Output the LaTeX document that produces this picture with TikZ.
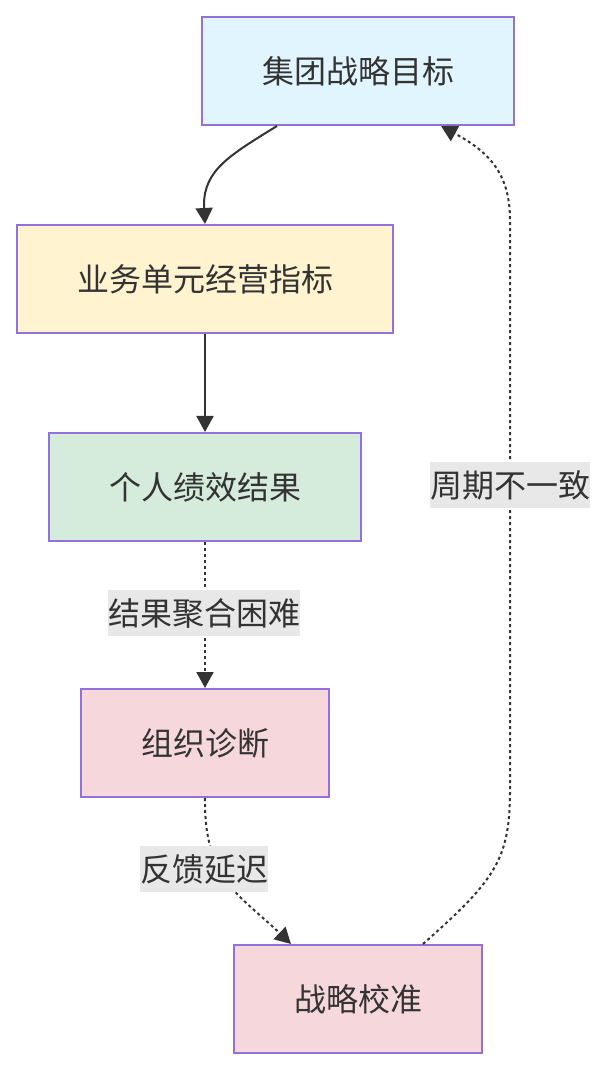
\documentclass[tikz,border=0pt]{standalone}
\usepackage{fontspec}
\setmainfont{Noto Sans CJK SC}
\usetikzlibrary{arrows.meta}
\definecolor{bordc}{HTML}{9370DB}
\definecolor{txtc}{HTML}{333333}
\definecolor{lblue}{HTML}{E1F5FE}
\definecolor{lyel}{HTML}{FFF3D0}
\definecolor{lgreen}{HTML}{D5EBDB}
\definecolor{lpink}{HTML}{F6D8DC}
\definecolor{lblbg}{HTML}{E8E8E8}
\tikzset{
  box/.style={draw=bordc, line width=1pt, text=txtc, font=\fontsize{16pt}{20pt}\selectfont, inner sep=0pt, anchor=north west},
  lbl/.style={fill=lblbg, text=txtc, font=\fontsize{16pt}{20pt}\selectfont, inner sep=0pt, minimum height=23pt},
  conn/.style={draw=txtc, line width=1pt, -{Triangle[length=8pt,width=8.5pt]}},
  dots/.style={conn, dash pattern=on 1.5pt off 1.5pt}
}
\begin{document}
\begin{tikzpicture}[x=0.5pt,y=-0.5pt]
\useasboundingbox (0,0) rectangle (606,1068);
\node[box, fill=lblue, minimum width=156pt, minimum height=54pt] (n1) at (201,16) {集团战略目标};
\node[box, fill=lyel, minimum width=188pt, minimum height=54pt] (n2) at (16,224) {业务单元经营指标};
\node[box, fill=lgreen, minimum width=156pt, minimum height=54pt] (n3) at (48,432) {个人绩效结果};
\node[box, fill=lpink, minimum width=124pt, minimum height=54pt] (n4) at (80,688) {组织诊断};
\node[box, fill=lpink, minimum width=124pt, minimum height=54pt] (n5) at (233,944) {战略校准};
\coordinate (c1) at (204,205);
\coordinate (r1) at (510,790);
\coordinate (r2) at (510,220);
\draw[conn] ([xshift=-40.5pt]n1.south) .. controls (230,155) and (204,170) .. (c1) -- (n2.north);
\draw[conn] (n2.south) -- (n3.north);
\draw[dots] (n3.south) -- (n4.north);
\draw[dots] (n4.south) .. controls (204,880) and (240,895) .. ([xshift=-33.5pt]n5.north);
\draw[dots] ([xshift=32.5pt]n5.north) .. controls (495,880) and (510,860) .. (r1) -- (r2) .. controls (510,170) and (485,150) .. ([xshift=41.5pt]n1.south);
\node[lbl, minimum width=96pt] (l1) at (204,613) {结果聚合困难};
\node[lbl, minimum width=64pt] (l2) at (204,869) {反馈延迟};
\node[lbl, minimum width=80pt] (l3) at (510,485) {周期不一致};
\end{tikzpicture}
\end{document}
